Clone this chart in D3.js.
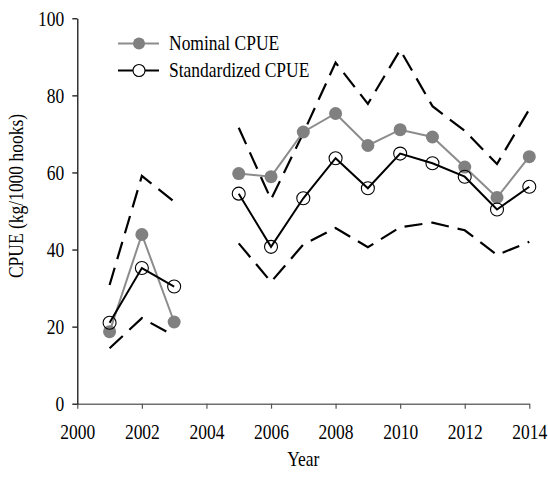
<!DOCTYPE html>
<html>
<head>
<meta charset="utf-8">
<script src="https://cdn.jsdelivr.net/npm/d3@7"></script>
<style>
  html, body { margin: 0; padding: 0; background: #fff; }
  svg { display: block; }
  text { font-family: "Liberation Serif", "Times New Roman", serif; fill: #000; }
</style>
</head>
<body>
<svg id="chart" width="548" height="478"></svg>
<script>
const years = [2001, 2002, 2003, 2004, 2005, 2006, 2007, 2008, 2009, 2010, 2011, 2012, 2013, 2014];
const nominal = [18.7, 43.9, 21.2, null, 59.7, 58.9, 70.5, 75.3, 67.0, 71.1, 69.2, 61.4, 53.5, 64.1];
const standardized = [21.0, 35.2, 30.4, null, 54.5, 40.7, 53.3, 63.7, 55.9, 64.9, 62.4, 58.9, 50.4, 56.3];
const upper = [30.8, 59.1, 52.4, null, 71.6, 53.0, 70.2, 88.5, 77.8, 91.8, 77.2, 70.8, 62.2, 76.4];
const lower = [14.4, 22.2, 17.6, null, 41.6, 31.6, 41.3, 45.6, 40.6, 45.8, 47.0, 45.0, 38.6, 42.0];
const xTicks = [2000, 2002, 2004, 2006, 2008, 2010, 2012, 2014];
const yTicks = [0, 20, 40, 60, 80, 100];
const seriesNames = ["Nominal CPUE", "Standardized CPUE"];

const W = 548, H = 478;
const m = { left: 77.3, right: 18.7, top: 18.3, bottom: 74.3 };
const svg = d3.select("#chart");
const x = d3.scaleLinear().domain([2000, 2014]).range([m.left, W - m.right]);
const y = d3.scaleLinear().domain([0, 100]).range([H - m.bottom, m.top]);
const FS = 17.5, SY = 1.2;

// Axes
const xAxis = svg.append("g").attr("transform", `translate(0,${y(0)})`)
  .call(d3.axisBottom(x).tickValues(xTicks).tickFormat(d3.format("d")).tickSizeInner(5).tickSizeOuter(0));
xAxis.select(".domain").attr("stroke", "#6e6e6e").attr("stroke-width", 1.6);
xAxis.selectAll(".tick line").attr("stroke", "#555").attr("stroke-width", 1.2);
xAxis.selectAll(".tick text")
  .attr("font-size", FS).attr("font-family", "Liberation Serif")
  .attr("y", 20 / SY).attr("dy", "0.71em")
  .attr("transform", `scale(1,${SY})`);

const yAxis = svg.append("g").attr("transform", `translate(${x(2000)},0)`)
  .call(d3.axisLeft(y).tickValues(yTicks).tickSizeInner(5).tickSizeOuter(0));
yAxis.select(".domain").attr("stroke", "#000").attr("stroke-width", 1.2);
yAxis.selectAll(".tick line").attr("stroke", "#000").attr("stroke-width", 1.2);
yAxis.selectAll(".tick text")
  .attr("font-size", FS).attr("font-family", "Liberation Serif")
  .attr("x", -13).attr("dy", "0.33em")
  .attr("transform", function() { return `scale(1,${SY})`; })
  .each(function() {
    const t = d3.select(this.parentNode).attr("transform");
  });
// Fix y tick label positions after scaling: place them in unscaled tick group coordinates
yAxis.selectAll(".tick text").attr("transform", `scale(1,${SY})`).attr("y", 0);

// Axis titles
svg.append("text")
  .attr("transform", `translate(${(x(2000) + x(2014)) / 2},466) scale(1,${SY})`)
  .attr("text-anchor", "middle").attr("font-size", FS).text("Year");
svg.append("text")
  .attr("transform", `translate(23,196) rotate(-90) scale(1,${SY})`)
  .attr("text-anchor", "middle").attr("font-size", FS).text("CPUE (kg/1000 hooks)");

// Lines
const rows = years.map((yr, i) => ({ yr, nom: nominal[i], std: standardized[i], up: upper[i], lo: lower[i] }));
const mk = key => d3.line().defined(d => d[key] !== null).x(d => x(d.yr)).y(d => y(d[key]));

svg.append("path").datum(rows).attr("d", mk("up"))
  .attr("fill", "none").attr("stroke", "#000").attr("stroke-width", 2.2).attr("stroke-dasharray", "18,9");
svg.append("path").datum(rows).attr("d", mk("lo"))
  .attr("fill", "none").attr("stroke", "#000").attr("stroke-width", 2.2).attr("stroke-dasharray", "18,9");
svg.append("path").datum(rows).attr("d", mk("nom"))
  .attr("fill", "none").attr("stroke", "#8c8c8c").attr("stroke-width", 2);
svg.append("g").selectAll("circle").data(rows.filter(d => d.nom !== null)).join("circle")
  .attr("cx", d => x(d.yr)).attr("cy", d => y(d.nom)).attr("r", 6.5).attr("fill", "#808080");
svg.append("path").datum(rows).attr("d", mk("std"))
  .attr("fill", "none").attr("stroke", "#000").attr("stroke-width", 2);
svg.append("g").selectAll("circle").data(rows.filter(d => d.std !== null)).join("circle")
  .attr("cx", d => x(d.yr)).attr("cy", d => y(d.std)).attr("r", 6.5)
  .attr("fill", "none").attr("stroke", "#000").attr("stroke-width", 1.1);

// Legend
const lg = svg.append("g");
const ly = [43.5, 70.5];
lg.append("line").attr("x1", 118).attr("x2", 159).attr("y1", ly[0]).attr("y2", ly[0])
  .attr("stroke", "#8c8c8c").attr("stroke-width", 2);
lg.append("circle").attr("cx", 139).attr("cy", ly[0]).attr("r", 6).attr("fill", "#808080");
lg.append("line").attr("x1", 118).attr("x2", 159).attr("y1", ly[1]).attr("y2", ly[1])
  .attr("stroke", "#000").attr("stroke-width", 2);
lg.append("circle").attr("cx", 139).attr("cy", ly[1]).attr("r", 6)
  .attr("fill", "#fff").attr("stroke", "#000").attr("stroke-width", 1.1);
seriesNames.forEach((s, i) => {
  lg.append("text").attr("transform", `translate(169,${ly[i]}) scale(1,${SY})`)
    .attr("dy", "0.33em").attr("font-size", FS).text(s);
});
</script>
</body>
</html>
